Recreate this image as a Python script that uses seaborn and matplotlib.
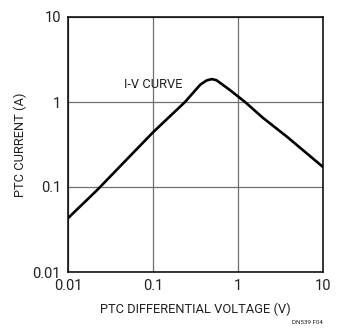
import matplotlib
matplotlib.use("Agg")
import matplotlib.pyplot as plt
from matplotlib import font_manager
import seaborn as sns
import pandas as pd

voltage = [0.01, 0.022, 0.1, 0.238, 0.36, 0.43, 0.494, 0.56, 0.805, 1.21, 1.97, 3.77, 10]
current = [0.043, 0.092, 0.44, 1.0, 1.6, 1.8, 1.86, 1.8, 1.38, 1.0, 0.65, 0.39, 0.172]
tick_vals = [0.01, 0.1, 1, 10]
tick_labels = ["0.01", "0.1", "1", "10"]

sns.set_theme(style="white")
names = {f.name for f in font_manager.fontManager.ttflist}
fam = "Liberation Sans Narrow" if "Liberation Sans Narrow" in names else "Roboto"
plt.rcParams["font.family"] = [fam, "DejaVu Sans"]

df = pd.DataFrame({"v": voltage, "i": current})

fig = plt.figure(figsize=(3.49, 3.30), dpi=100)
ax = fig.add_axes([68/349, 58/330, 255/349, 255/330])
sns.lineplot(data=df, x="v", y="i", ax=ax, color="black", linewidth=1.9,
             sort=False, estimator=None)
ax.set_xscale("log")
ax.set_yscale("log")
ax.set_xlim(0.01, 10)
ax.set_ylim(0.01, 10)
ax.set_xticks(tick_vals)
ax.set_xticklabels(tick_labels)
ax.set_yticks(tick_vals)
ax.set_yticklabels(tick_labels)
ax.minorticks_off()
ax.tick_params(axis="both", length=0, labelsize=10.5, colors="#222222", pad=5)
ax.grid(True, color="#707070", linewidth=0.9)
for s in ax.spines.values():
    s.set_visible(True)
    s.set_color("black")
    s.set_linewidth(1.1)
ax.set_xlabel("PTC DIFFERENTIAL VOLTAGE (V)", fontsize=9.3, color="#222222", labelpad=7)
ax.set_ylabel("PTC CURRENT (A)", fontsize=9.3, color="#222222", labelpad=4)
ax.text(0.1, 1.6, "I-V CURVE", ha="center", va="center", fontsize=9.3, color="#222222")
fig.text(323/349, 7/330, "DN539 F04", ha="right", va="center", fontsize=4.5, color="#222222")
fig.savefig("out.png", dpi=100)
